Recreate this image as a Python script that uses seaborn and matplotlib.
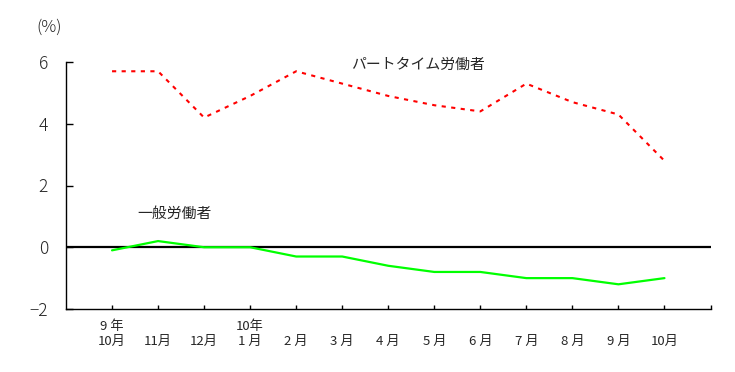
import matplotlib
matplotlib.use("Agg")
import matplotlib.pyplot as plt
import seaborn as sns
import pandas as pd
import numpy as np

months = ["9 年\n10月", "\n11月", "\n12月", "10年\n1 月", "\n2 月", "\n3 月", "\n4 月",
          "\n5 月", "\n6 月", "\n7 月", "\n8 月", "\n9 月", "\n10月"]
part_time = [5.7, 5.7, 4.2, 4.9, 5.7, 5.3, 4.9, 4.6, 4.4, 5.3, 4.7, 4.3, 2.8]
general = [-0.1, 0.2, 0.0, 0.0, -0.3, -0.3, -0.6, -0.8, -0.8, -1.0, -1.0, -1.2, -1.0]
yticks = [-2, 0, 2, 4, 6]

sns.set_theme(style="white")
plt.rcParams['font.family'] = ['Noto Sans CJK JP', 'DejaVu Sans']

df = pd.DataFrame({"idx": np.arange(len(months)), "part": part_time, "gen": general})

fig = plt.figure(figsize=(7.35, 3.72), dpi=100)
ax = fig.add_axes([66/735, 1 - 309/372, (710.5 - 66)/735, (309 - 62)/372])

ax.axhline(0, color="black", lw=1.6, zorder=1)
sns.lineplot(data=df, x="idx", y="part", ax=ax, color="#ff0000", lw=1.5,
             linestyle=(0, (2, 2.6)), zorder=3)
sns.lineplot(data=df, x="idx", y="gen", ax=ax, color="#00ff00", lw=1.6, zorder=2)

ax.set_xlim(-1, 13)
ax.set_ylim(-2, 6)
ax.set_xticks(np.arange(0, 14))
ax.set_xticklabels(months + [""], fontsize=9.5, linespacing=1.15)
ax.set_yticks(yticks)
ax.set_yticklabels([str(v) if v >= 0 else "\u22122" for v in yticks], fontsize=12.5,
                   fontweight="light")
ax.set_xlabel("")
ax.set_ylabel("")

for s in ["top", "right"]:
    ax.spines[s].set_visible(False)
for s in ["left", "bottom"]:
    ax.spines[s].set_color("black")
    ax.spines[s].set_linewidth(1.0)

ax.tick_params(axis="x", direction="in", length=3, width=1, color="black", pad=8, bottom=True)
ax.tick_params(axis="y", direction="in", length=5, width=1, color="black", pad=13, left=True)

fig.text(49/735, 1 - 27/372, "(%)", fontsize=12, ha="center", va="center", fontweight="light")
fig.text(418/735, 1 - 65/372, "パートタイム労働者", fontsize=10.7, ha="center", va="center")
fig.text(137/735, 1 - 214/372, "一般労働者", fontsize=10.7, ha="left", va="center")

fig.savefig("out.png", dpi=100)
